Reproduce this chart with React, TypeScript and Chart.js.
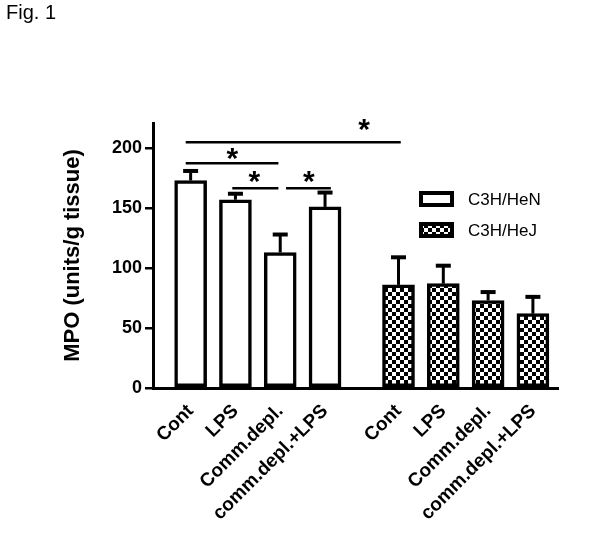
import React, { useEffect, useRef } from 'react';
import { Chart, registerables } from 'chart.js';

Chart.register(...registerables);

// ---------------- data ----------------
const categories = ['Cont', 'LPS', 'Comm.depl.', 'comm.depl.+LPS'];
const seriesNames = ['C3H/HeN', 'C3H/HeJ'];
const henMeans = [173, 157, 113, 151];
const henErrors = [8, 5, 15, 12];
const hejMeans = [86, 87, 73, 62];
const hejErrors = [23, 15, 7, 14];
const yTickValues = [0, 50, 100, 150, 200];
const yAxisTitle = 'MPO (units/g tissue)';
const figureLabel = 'Fig. 1';
// significance brackets in axis units: line from x1 to x2 at y; star at (sx, sy)
const sigX1 = [-0.11, -0.11, 0.93, 2.13];
const sigX2 = [4.69, 1.96, 1.96, 3.13];
const sigY = [205, 187.5, 166.5, 166.5];
const starX = [3.87, 0.93, 1.42, 2.64];
const starY = [219.5, 195.5, 176, 176];

// ---------------- layout ----------------
const GROUP_GAP = 0.64;
const henPos = categories.map((_, i) => i);
const hejPos = categories.map((_, i) => i + categories.length + GROUP_GAP);
const allPos = [...henPos, ...hejPos];
const allLabels = [...categories, ...categories];
const FONT = "'Liberation Sans', Arial, sans-serif";

function makeChecker(): CanvasPattern | string {
  const c = document.createElement('canvas');
  c.width = 8;
  c.height = 8;
  const g = c.getContext('2d');
  if (!g) return '#888';
  g.fillStyle = '#ffffff';
  g.fillRect(0, 0, 8, 8);
  g.fillStyle = '#000000';
  g.fillRect(0, 0, 4, 4);
  g.fillRect(4, 4, 4, 4);
  const p = g.createPattern(c, 'repeat');
  return p || '#888';
}

export default function App() {
  const ref = useRef<HTMLCanvasElement | null>(null);

  useEffect(() => {
    if (!ref.current) return;
    const checker = makeChecker();
    const errors = [henErrors, hejErrors];

    const overlay = {
      id: 'overlay',
      afterDatasetsDraw(chart: any) {
        const ctx = chart.ctx;
        const ys = chart.scales.y;
        const xs = chart.scales.x;
        ctx.save();
        // error bars (upper only)
        ctx.strokeStyle = '#000';
        chart.data.datasets.forEach((ds: any, di: number) => {
          const meta = chart.getDatasetMeta(di);
          meta.data.forEach((el: any, i: number) => {
            const v = ds.data[i].y;
            const top = ys.getPixelForValue(v + errors[di][i]);
            ctx.lineWidth = 3;
            ctx.beginPath();
            ctx.moveTo(el.x, el.y);
            ctx.lineTo(el.x, top);
            ctx.stroke();
            ctx.lineWidth = 4;
            ctx.beginPath();
            ctx.moveTo(el.x - 7.5, top);
            ctx.lineTo(el.x + 7.5, top);
            ctx.stroke();
          });
        });
        // significance lines
        ctx.lineWidth = 2.5;
        sigY.forEach((yv, i) => {
          const py = ys.getPixelForValue(yv);
          ctx.beginPath();
          ctx.moveTo(xs.getPixelForValue(sigX1[i]), py);
          ctx.lineTo(xs.getPixelForValue(sigX2[i]), py);
          ctx.stroke();
        });
        ctx.fillStyle = '#000';
        ctx.font = `bold 30px ${FONT}`;
        ctx.textAlign = 'center';
        ctx.textBaseline = 'alphabetic';
        const m = ctx.measureText('*');
        const off = (m.actualBoundingBoxAscent - m.actualBoundingBoxDescent) / 2;
        starX.forEach((sx, i) => {
          ctx.fillText('*', xs.getPixelForValue(sx), ys.getPixelForValue(starY[i]) + off);
        });
        ctx.restore();
      },
      afterDraw(chart: any) {
        const ctx = chart.ctx;
        ctx.save();
        // figure label
        ctx.fillStyle = '#000';
        ctx.font = `20px ${FONT}`;
        ctx.textAlign = 'left';
        ctx.textBaseline = 'alphabetic';
        ctx.fillText(figureLabel, 6, 19);
        // legend
        chart.data.datasets.forEach((ds: any, i: number) => {
          const cy = 199 + i * 31;
          ctx.fillStyle = ds.backgroundColor;
          ctx.fillRect(421, cy - 6, 31, 12);
          ctx.lineWidth = 4;
          ctx.strokeStyle = '#000';
          ctx.strokeRect(421, cy - 6, 31, 12);
          ctx.fillStyle = '#000';
          ctx.font = `17px ${FONT}`;
          ctx.textBaseline = 'middle';
          ctx.fillText(ds.label, 468, cy + 1);
        });
        ctx.restore();
      },
    };

    const chart = new Chart(ref.current, {
      type: 'bar',
      data: {
        datasets: [
          {
            label: seriesNames[0],
            data: henMeans.map((v, i) => ({ x: henPos[i], y: v })),
            backgroundColor: '#ffffff',
            borderColor: '#000000',
            borderWidth: 3.5,
            borderSkipped: false,
            barThickness: 32,
            grouped: false,
          } as any,
          {
            label: seriesNames[1],
            data: hejMeans.map((v, i) => ({ x: hejPos[i], y: v })),
            backgroundColor: checker as any,
            borderColor: '#000000',
            borderWidth: 3.5,
            borderSkipped: false,
            barThickness: 32,
            grouped: false,
          } as any,
        ],
      },
      options: {
        responsive: false,
        animation: false,
        events: [],
        layout: { padding: { left: 60, right: 42, top: 123, bottom: 0 } },
        plugins: {
          legend: { display: false },
          tooltip: { enabled: false },
        },
        scales: {
          x: {
            type: 'linear',
            offset: false,
            min: -0.84,
            max: 8.2,
            afterBuildTicks: (scale: any) => {
              scale.ticks = allPos.map((v) => ({ value: v }));
            },
            afterFit: (scale: any) => {
              scale.height = 152;
            },
            grid: { display: false, offset: false },
            border: { display: true, color: '#000', width: 3 },
            ticks: {
              autoSkip: false,
              minRotation: 45,
              maxRotation: 45,
              padding: 4,
              color: '#000',
              font: { family: FONT, size: 19, weight: 'bold' },
              callback: (_v: any, i: number) => allLabels[i],
            },
          },
          y: {
            min: 0,
            max: 221,
            afterBuildTicks: (scale: any) => {
              scale.ticks = yTickValues.map((v) => ({ value: v }));
            },
            afterFit: (scale: any) => {
              scale.width = 93;
            },
            grid: {
              display: true,
              drawOnChartArea: false,
              drawTicks: true,
              tickLength: 8,
              color: '#000',
              lineWidth: 2.5,
            },
            border: { display: true, color: '#000', width: 3 },
            ticks: {
              padding: 3,
              color: '#000',
              font: { family: FONT, size: 18, weight: 'bold' },
            },
            title: {
              display: true,
              text: yAxisTitle,
              color: '#000',
              padding: { top: 0, bottom: 0 },
              font: { family: FONT, size: 22, weight: 'bold' },
            },
          },
        },
      },
      plugins: [overlay],
    });
    return () => chart.destroy();
  }, []);

  return (
    <div style={{ position: 'fixed', left: 0, top: 0, width: 600, height: 540, background: '#fff' }}>
      <canvas ref={ref} width={600} height={540} />
    </div>
  );
}
